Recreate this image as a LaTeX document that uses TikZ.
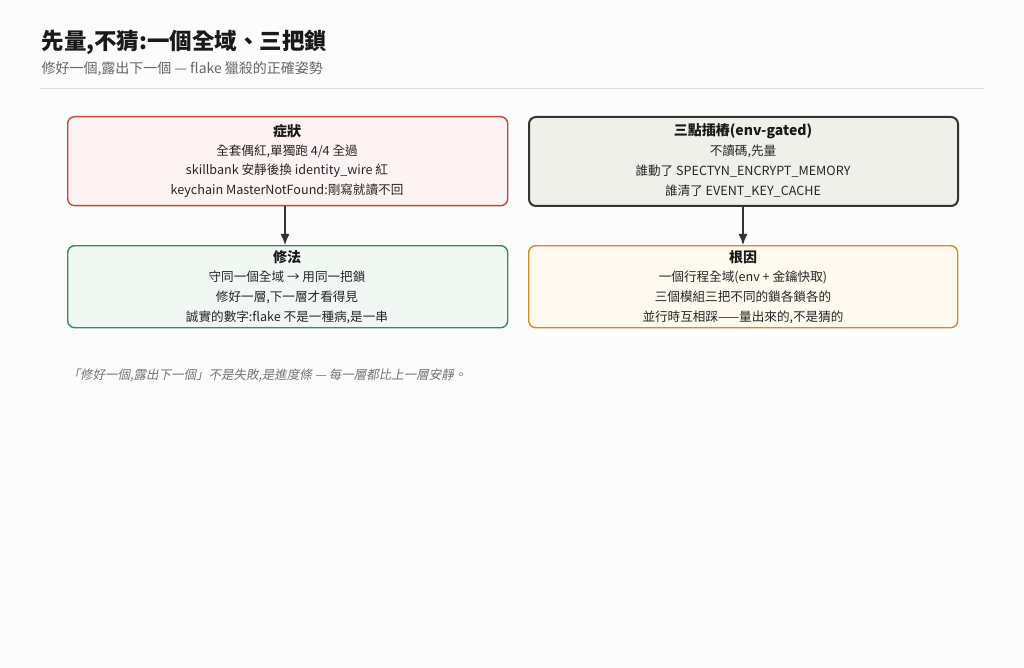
\documentclass[tikz,border=0pt]{standalone}
\usepackage{fontspec}
\setmainfont{Noto Sans CJK TC}
\newfontfamily\slantcjk[FakeSlant=0.2]{Noto Sans CJK TC}
\usetikzlibrary{arrows.meta}
\begin{document}
\begin{tikzpicture}[x=1pt,y=-1pt,
  box/.style={draw, rounded corners=7pt, line width=1.4pt, minimum width=#1, minimum height=89pt, inner sep=0pt, anchor=north west},
  txt/.style={font=\fontsize{12.6}{14}\selectfont, text=black!85, align=center},
  ttl/.style={font=\fontsize{14}{16}\selectfont\bfseries, text=black!90},
  arr/.style={-{Latex[length=11pt,width=9pt]}, line width=1.3pt, draw=black!80}]
\fill[black!1!white] (0,0) rectangle (1024,668);
\useasboundingbox (0,0) rectangle (1024,668);
\node[anchor=west, font=\fontsize{22.5}{26}\selectfont\bfseries, text=black!90] (title) at (38,42) {先量,不猜:一個全域、三把鎖};
\node[anchor=west, font=\fontsize{14}{16}\selectfont, text=black!60] (sub) at (38,69) {修好一個,露出下一個 — flake 獵殺的正確姿勢};
\draw[black!12, line width=1pt] (40,89) -- (984,89);

\node[box=440pt, draw={rgb,255:red,192;green,72;blue,56}, fill={rgb,255:red,253;green,243;blue,242}] (sym) at (67,116) {};
\node[box=429pt, line width=2pt, draw=black!80, fill={rgb,255:red,240;green,240;blue,235}] (probe) at (528,116) {};
\node[box=440pt, minimum height=82pt, draw={rgb,255:red,58;green,138;blue,92}, fill={rgb,255:red,241;green,247;blue,242}] (fix) at (67,245) {};
\node[box=429pt, minimum height=82pt, draw={rgb,255:red,196;green,146;blue,42}, fill={rgb,255:red,253;green,249;blue,238}] (root) at (528,245) {};

\node[ttl] at (287,131) {症狀};
\node[txt] at (287,151) {全套偶紅,單獨跑 4/4 全過};
\node[txt] at (287,171) {skillbank 安靜後換 identity\_wire 紅};
\node[txt] at (287,191) {keychain MasterNotFound:剛寫就讀不回};

\node[ttl] at (743,131) {三點插樁(env-gated)};
\node[txt] at (743,151) {不讀碼,先量};
\node[txt] at (743,171) {誰動了 SPECTYN\_ENCRYPT\_MEMORY};
\node[txt] at (743,191) {誰清了 EVENT\_KEY\_CACHE};

\node[ttl] at (287,257) {修法};
\node[txt] at (287,277) {守同一個全域 → 用同一把鎖};
\node[txt] at (287,297) {修好一層,下一層才看得見};
\node[txt] at (287,317) {誠實的數字:flake 不是一種病,是一串};

\node[ttl] at (743,257) {根因};
\node[txt] at (743,277) {一個行程全域(env + 金鑰快取)};
\node[txt] at (743,297) {三個模組三把不同的鎖各鎖各的};
\node[txt] at (743,317) {並行時互相踩——量出來的,不是猜的};

\draw[arr] (sym.south -| 285,0) -- (fix.north -| 285,0);
\draw[arr] (probe.south -| 743,0) -- (root.north -| 743,0);

\node[anchor=west, font=\fontsize{12.5}{14}\selectfont\slantcjk, text=black!55] (foot) at (64,375) {「修好一個,露出下一個」不是失敗,是進度條 — 每一層都比上一層安靜。};
\end{tikzpicture}
\end{document}
